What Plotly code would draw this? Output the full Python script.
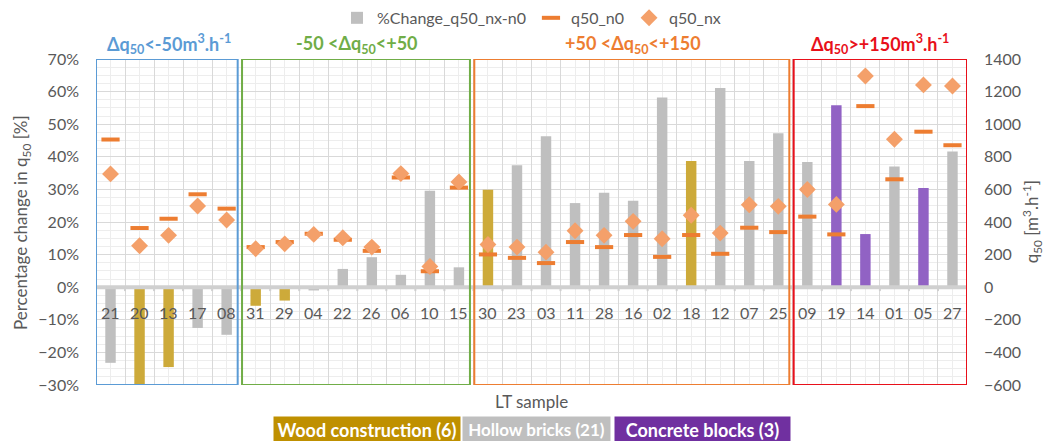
import plotly.graph_objects as go

samples = ["21", "20", "13", "17", "08",
           "31", "29", "04", "22", "26", "06", "10", "15",
           "30", "23", "03", "11", "28", "16", "02", "18", "12", "07", "25",
           "09", "19", "14", "01", "05", "27"]
material = ["H", "W", "W", "H", "H",
            "W", "W", "H", "H", "H", "H", "H", "H",
            "W", "H", "H", "H", "H", "H", "H", "W", "H", "H", "H",
            "H", "C", "C", "H", "C", "H"]
pct_change = [-23.2, -30.5, -24.5, -12.5, -14.6,
              -5.7, -4.1, -1.0, 5.6, 9.2, 3.8, 29.6, 6.1,
              29.9, 37.4, 46.3, 25.8, 29.0, 26.5, 58.2, 38.7, 61.1, 38.7, 47.2,
              38.4, 55.8, 16.3, 37.0, 30.4, 41.6]
q50_n0 = [906, 363, 420, 570, 482,
          246, 277, 328, 291, 223, 673, 98, 611,
          201, 180, 148, 277, 246, 320, 186, 320, 205, 365, 338,
          433, 324, 1111, 662, 954, 871]
q50_nx = [695, 254, 318, 498, 412,
          236, 266, 324, 303, 246, 697, 127, 646,
          262, 246, 215, 346, 318, 404, 297, 441, 332, 506, 496,
          599, 508, 1296, 908, 1241, 1234]

groups = [
    {"start": 0, "end": 4, "color": "#5B9BD5",
     "title": "Δq<sub>50</sub><-50m<sup>3</sup>.h<sup>-1</sup>"},
    {"start": 5, "end": 12, "color": "#70AD47",
     "title": "-50 <Δq<sub>50</sub><+50"},
    {"start": 13, "end": 23, "color": "#ED7D31",
     "title": "+50 <Δq<sub>50</sub><+150"},
    {"start": 24, "end": 29, "color": "#E8101A",
     "title": "Δq<sub>50</sub>>+150m<sup>3</sup>.h<sup>-1</sup>"},
]
materials_legend = [
    ("Wood construction (6)", "#BF9000"),
    ("Hollow bricks (21)", "#BFBFBF"),
    ("Concrete blocks (3)", "#7030A0"),
]
bar_colors = {"H": "#BFBFBF", "W": "#CDAA3A", "C": "#9162C4"}

FONT = "Lato"
TXT = "#595959"

xs = list(range(len(samples)))
fig = go.Figure()
fig.add_trace(go.Bar(
    x=xs, y=[v / 100 for v in pct_change], name="%Change_q50_nx-n0",
    marker=dict(color=[bar_colors[m] for m in material], line=dict(width=0)),
    width=0.36, yaxis="y",
))
fig.add_trace(go.Scatter(
    x=xs, y=q50_n0, name="q50_n0", mode="markers", yaxis="y2",
    marker=dict(symbol="line-ew", size=13, color="#ED7D31",
                line=dict(width=4, color="#ED7D31")),
))
fig.add_trace(go.Scatter(
    x=xs, y=q50_nx, name="q50_nx", mode="markers", yaxis="y2",
    marker=dict(symbol="diamond", size=13, color="#F4A06A"),
))

shapes = []
# zero line
shapes.append(dict(type="line", xref="x", yref="y", x0=-0.5, x1=29.5, y0=0, y1=0,
                   line=dict(color="#D0D0D0", width=4), layer="above"))
for k in range(31):
    shapes.append(dict(type="line", xref="x", yref="y", x0=k - 0.5, x1=k - 0.5,
                       y0=0, y1=-0.012, line=dict(color="#D0D0D0", width=2),
                       layer="above"))
# group boxes
for g in groups:
    x0 = g["start"] - 0.5 + (0.03 if g["start"] > 0 else 0)
    x1 = g["end"] + 0.5 - (0.12 if g["end"] < 29 else 0)
    shapes.append(dict(type="rect", xref="x", yref="y", x0=x0, x1=x1,
                       y0=-0.3, y1=0.7, line=dict(color=g["color"], width=2),
                       fillcolor="rgba(0,0,0,0)", layer="above"))

annotations = []
for g in groups:
    annotations.append(dict(
        x=(g["start"] + g["end"]) / 2, xref="x", xanchor="center",
        y=1.0, yref="paper", yanchor="bottom", yshift=0,
        text="<b>" + g["title"] + "</b>",
        showarrow=False, font=dict(family=FONT, size=18, color=g["color"])))
for i, s in enumerate(samples):
    annotations.append(dict(
        x=i, xref="x", xanchor="center", y=0, yref="y", yanchor="middle",
        yshift=-25, text=s, showarrow=False,
        font=dict(family=FONT, size=16, color=TXT)))
annotations.append(dict(x=0.5, xref="paper", xanchor="center", y=-0.052,
                        yref="paper", yanchor="middle", text="LT sample",
                        showarrow=False, font=dict(family=FONT, size=17, color=TXT)))
annotations.append(dict(x=-0.085, xref="paper", xanchor="center", y=0.5,
                        yref="paper", yanchor="middle", textangle=-90,
                        text="Percentage change in q<sub>50</sub> [%]",
                        showarrow=False, font=dict(family=FONT, size=17, color=TXT)))
annotations.append(dict(x=1.075, xref="paper", xanchor="center", y=0.5,
                        yref="paper", yanchor="middle", textangle=-90,
                        text="q<sub>50</sub> [m<sup>3</sup>.h<sup>-1</sup>]",
                        showarrow=False, font=dict(family=FONT, size=17, color=TXT)))
mat_x = [0.311, 0.5057, 0.696]
mat_w = [182, 143, 171]
mat_fs = [18, 17, 18]
for (label, col), mx, mw, fs in zip(materials_legend, mat_x, mat_w, mat_fs):
    annotations.append(dict(x=mx, xref="paper", xanchor="center", y=-0.138,
                            yref="paper", yanchor="middle",
                            text="<b>" + label + "</b>", width=mw, align="center",
                            showarrow=False, bgcolor=col, borderpad=2,
                            font=dict(family=FONT, size=fs, color="white")))

fig.update_layout(
    width=1044, height=433,
    margin=dict(l=88, r=85, t=51, b=56, autoexpand=False),
    paper_bgcolor="white", plot_bgcolor="white",
    font=dict(family=FONT, color=TXT),
    bargap=0.6,
    showlegend=True,
    legend=dict(orientation="h", x=0.5, xanchor="center", y=1.126,
                yanchor="middle", font=dict(family=FONT, size=16, color=TXT),
                itemwidth=30, bgcolor="rgba(0,0,0,0)"),
    xaxis=dict(range=[-0.5, 29.5], showticklabels=False, ticks="",
               tick0=-0.5, dtick=1, showgrid=True, gridcolor="#D9D9D9",
               gridwidth=1, zeroline=False,
               minor=dict(tick0=0, dtick=1, showgrid=True, gridcolor="#EDEDED",
                          gridwidth=1)),
    yaxis=dict(range=[-0.3, 0.7], dtick=0.1, tickformat=".0%", showgrid=True,
               gridcolor="#D9D9D9", gridwidth=1, zeroline=False,
               tickfont=dict(family=FONT, size=16, color=TXT),
               ticklabelstandoff=16,
               minor=dict(dtick=0.025, showgrid=True, gridcolor="#EDEDED",
                          gridwidth=1)),
    yaxis2=dict(range=[-600, 1400], dtick=200, overlaying="y", side="right",
                showgrid=False, zeroline=False,
                tickfont=dict(family=FONT, size=16, color=TXT),
                ticklabelstandoff=16),
    shapes=shapes,
    annotations=annotations,
)

fig.write_html("out.html")
